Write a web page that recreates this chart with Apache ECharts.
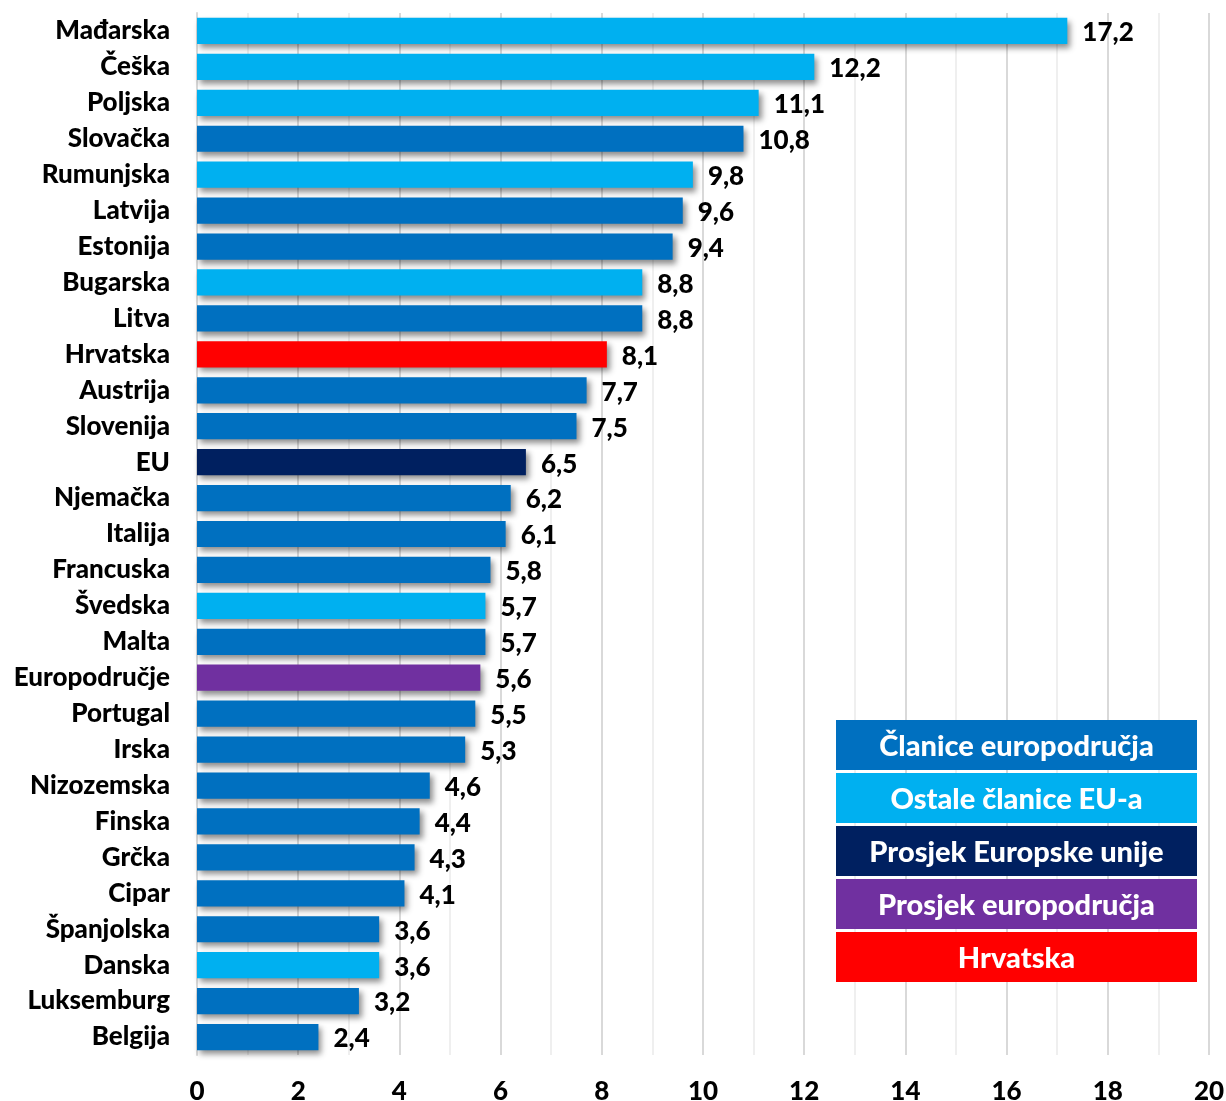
<!DOCTYPE html>
<html><head><meta charset="utf-8">
<script src="https://cdn.jsdelivr.net/npm/echarts@6/dist/echarts.min.js"></script>
<style>html,body{margin:0;padding:0;background:#fff}#c{width:1226px;height:1101px}</style>
</head><body><div id="c"></div>
<script>
const categories = ['Mađarska','Češka','Poljska','Slovačka','Rumunjska','Latvija','Estonija','Bugarska','Litva','Hrvatska','Austrija','Slovenija','EU','Njemačka','Italija','Francuska','Švedska','Malta','Europodručje','Portugal','Irska','Nizozemska','Finska','Grčka','Cipar','Španjolska','Danska','Luksemburg','Belgija'];
const values = [17.2,12.2,11.1,10.8,9.8,9.6,9.4,8.8,8.8,8.1,7.7,7.5,6.5,6.2,6.1,5.8,5.7,5.7,5.6,5.5,5.3,4.6,4.4,4.3,4.1,3.6,3.6,3.2,2.4];
// group: 'ea' = članice europodručja, 'eu' = ostale članice EU-a, 'avgEU', 'avgEA', 'hr'
const groups = ['eu','eu','eu','ea','eu','ea','ea','eu','ea','hr','ea','ea','avgEU','ea','ea','ea','eu','ea','avgEA','ea','ea','ea','ea','ea','ea','ea','eu','ea','ea'];
const legendKeys = ['ea','eu','avgEU','avgEA','hr'];
const legendNames = ['Članice europodručja','Ostale članice EU-a','Prosjek Europske unije','Prosjek europodručja','Hrvatska'];
const xTicks = {min:0, max:20, interval:2};

const colors = {ea:'#0070C0', eu:'#00B0F0', avgEU:'#002060', avgEA:'#7030A0', hr:'#FF0000'};
const FONT = 'Lato, "Open Sans", sans-serif';

const chart = echarts.init(document.getElementById('c'));
const legendGraphics = [];
legendKeys.forEach((k,i)=>{
  legendGraphics.push({
    type:'rect', left:836, top:720 + i*53, shape:{width:361, height:50},
    style:{fill:colors[k]}, z:100
  });
  legendGraphics.push({
    type:'text', z:101,
    style:{text:legendNames[i], fill:'#fff', font:'900 29px ' + FONT, textAlign:'center', textVerticalAlign:'middle',
      x:836+180.5, y:720 + i*53 + 27}
  });
});

chart.setOption({
  animation:false,
  grid:{left:197, right:17, top:13, bottom:46, containLabel:false, outerBoundsMode:'none'},
  xAxis:{
    type:'value', min:xTicks.min, max:xTicks.max, interval:xTicks.interval,
    axisLine:{show:false}, axisTick:{show:false},
    axisLabel:{fontFamily:FONT, fontWeight:900, fontSize:26, color:'#000', margin:24},
    splitLine:{show:true, lineStyle:{color:'#d9d9d9', width:2}},
    minorTick:{show:false, splitNumber:2},
    minorSplitLine:{show:true, lineStyle:{color:'#efefef', width:2}}
  },
  yAxis:{
    type:'category', data:categories, inverse:true,
    axisLine:{show:true, lineStyle:{color:'#d9d9d9', width:2}},
    axisTick:{show:false},
    axisLabel:{fontFamily:FONT, fontWeight:900, fontSize:26, color:'#000', margin:27, lineHeight:30, padding:[2,0,0,0]}
  },
  series:[{
    type:'bar', barCategoryGap:'27%',
    data: values.map((v,i)=>({value:v, itemStyle:{color:colors[groups[i]]}})),
    itemStyle:{shadowColor:'rgba(0,0,0,0.45)', shadowBlur:6, shadowOffsetX:3, shadowOffsetY:4},
    label:{show:true, position:'right', distance:15, offset:[0,2], fontFamily:FONT, fontWeight:900, fontSize:26, color:'#000',
      formatter:p=>String(p.value).replace('.',',')}
  }],
  graphic: legendGraphics
});
</script></body></html>
